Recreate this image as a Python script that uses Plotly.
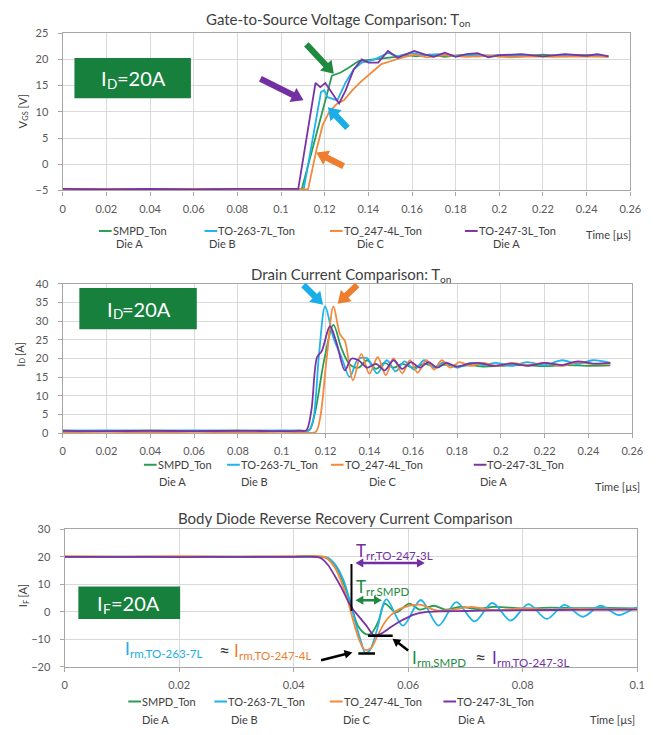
import math
import plotly.graph_objects as go

W, H = 656, 735
FONT = "Lato"

GREEN = "#2a9d55"
CYAN = "#1fb3ea"
ORANGE = "#f28a3c"
PURPLE = "#7a34a6"
BOX_GREEN = "#17803d"
ARROW_GREEN = "#1e8a3f"
ARROW_CYAN = "#19aee8"
ARROW_ORANGE = "#ef7d2e"
ARROW_PURPLE = "#7330a3"
TEXT = "#404040"
GRID = "#d9d9d9"
FRAME = "#a6a6a6"

SERIES = ["SMPD_Ton", "TO-263-7L_Ton", "TO_247-4L_Ton", "TO-247-3L_Ton"]
DIES = ["Die A", "Die B", "Die C", "Die A"]
COLORS = [GREEN, CYAN, ORANGE, PURPLE]

# ---------------- Gate-to-source voltage, turn-on (time in µs, V) ----------------
t_vgs_smpd = [0, 0.02, 0.04, 0.06, 0.08, 0.1, 0.1095, 0.1206, 0.1233, 0.1273, 0.131, 0.1355,
              0.1415, 0.1475, 0.1525, 0.1565, 0.162, 0.168, 0.175, 0.182, 0.19, 0.2, 0.21,
              0.22, 0.23, 0.24, 0.25]
vgs_smpd = [-4.8, -4.7, -4.8, -4.7, -4.8, -4.7, -4.8, 13.1, 16.9, 17.5, 18.4, 19.7,
            20.0, 20.3, 20.5, 20.9, 20.6, 20.9, 20.5, 20.8, 20.6, 20.8, 20.6,
            20.9, 20.6, 20.8, 20.6]

t_vgs_263 = [0, 0.02, 0.04, 0.06, 0.08, 0.1, 0.1104, 0.1183, 0.1198, 0.1213, 0.1258, 0.1296,
             0.1333, 0.137, 0.143, 0.149, 0.1534, 0.1594, 0.165, 0.172, 0.18, 0.19, 0.2,
             0.21, 0.22, 0.23, 0.24, 0.25]
vgs_263 = [-4.8, -4.7, -4.8, -4.7, -4.8, -4.7, -4.8, 13.75, 14.1, 12.8, 12.2, 15.6,
           18.1, 19.4, 20.0, 21.25, 20.6, 21.25, 20.8, 21.0, 20.7, 20.9, 20.6,
           20.8, 20.6, 20.8, 20.7, 20.6]

t_vgs_4l = [0, 0.02, 0.04, 0.06, 0.08, 0.1, 0.1124, 0.1139, 0.1161, 0.1191, 0.1221, 0.1258,
            0.1288, 0.1326, 0.137, 0.1415, 0.146, 0.1505, 0.155, 0.161, 0.167, 0.175,
            0.185, 0.195, 0.205, 0.215, 0.225, 0.235, 0.245, 0.25]
vgs_4l = [-4.8, -4.7, -4.8, -4.7, -4.8, -4.7, -4.8, -1.6, 2.5, 7.5, 10.0, 11.6,
          12.2, 14.1, 15.9, 17.5, 19.1, 19.7, 20.3, 20.9, 20.4, 20.8,
          20.5, 20.7, 20.4, 20.6, 20.5, 20.6, 20.5, 20.5]

t_vgs_3l = [0, 0.02, 0.04, 0.06, 0.08, 0.1, 0.1079, 0.1158, 0.118, 0.1203, 0.1266, 0.1296,
            0.1333, 0.137, 0.14, 0.1445, 0.149, 0.1534, 0.157, 0.161, 0.1654, 0.17, 0.175,
            0.18, 0.185, 0.19, 0.195, 0.2, 0.21, 0.22, 0.23, 0.24, 0.245, 0.25]
vgs_3l = [-4.7, -4.8, -4.7, -4.8, -4.7, -4.8, -4.7, 15.5, 14.7, 15.5, 11.6, 14.1,
          18.1, 20.0, 19.4, 19.4, 21.6, 20.3, 20.9, 21.6, 21.0, 20.5, 21.3,
          20.5, 21.0, 21.2, 20.4, 20.8, 21.0, 20.6, 21.0, 20.7, 21.0, 20.6]

# ---------------- Drain current, turn-on (time in µs, A) ----------------
t_id_smpd = [0, 0.02, 0.04, 0.06, 0.08, 0.1, 0.108, 0.1125, 0.115, 0.1195, 0.1236, 0.1273,
             0.131, 0.135, 0.139, 0.143, 0.147, 0.151, 0.155, 0.16, 0.165, 0.17, 0.175,
             0.18, 0.186, 0.192, 0.2, 0.21, 0.22, 0.23, 0.24, 0.25]
id_smpd = [0.7, 0.6, 0.7, 0.6, 0.7, 0.6, 0.7, 0.8, 5.0, 20.0, 29.0, 22.6,
           18.4, 17.5, 19.5, 17.2, 18.8, 17.5, 18.5, 17.5, 18.5, 17.8, 18.3,
           17.8, 18.2, 17.8, 18.0, 18.2, 17.9, 18.2, 18.0, 18.1]

t_id_263 = [0, 0.02, 0.04, 0.06, 0.08, 0.1, 0.108, 0.1125, 0.1145, 0.117, 0.1198, 0.1236,
            0.1273, 0.131, 0.1348, 0.139, 0.1435, 0.148, 0.152, 0.156, 0.1605, 0.165,
            0.1695, 0.174, 0.18, 0.186, 0.192, 0.198, 0.205, 0.212, 0.22, 0.228, 0.235,
            0.242, 0.25]
id_263 = [0.6, 0.7, 0.6, 0.7, 0.6, 0.7, 0.6, 0.7, 4.0, 21.0, 33.9, 25.5,
          20.3, 15.0, 19.8, 20.0, 16.0, 19.5, 16.5, 19.2, 17.0, 19.5,
          17.5, 19.0, 17.5, 18.8, 18.2, 18.8, 18.0, 19.0, 18.2, 19.5, 18.5,
          19.5, 18.8]

t_id_4l = [0, 0.02, 0.04, 0.06, 0.08, 0.1, 0.11, 0.1155, 0.1175, 0.1205, 0.1236, 0.1266,
           0.1288, 0.1325, 0.1363, 0.14, 0.1438, 0.1475, 0.151, 0.155, 0.1585, 0.162,
           0.166, 0.1695, 0.173, 0.177, 0.181, 0.186, 0.192, 0.198, 0.205, 0.212, 0.22,
           0.228, 0.235, 0.242, 0.25]
id_4l = [0.2, 0.3, 0.2, 0.3, 0.2, 0.3, 0.2, 0.3, 4.0, 20.0, 33.9, 26.4,
         24.7, 14.1, 21.2, 15.9, 20.3, 15.5, 20.0, 16.0, 19.5, 16.2,
         19.5, 17.0, 19.5, 17.5, 19.0, 18.0, 18.8, 18.0, 18.8, 18.2, 18.8,
         18.0, 19.0, 18.5, 18.6]

t_id_3l = [0, 0.02, 0.04, 0.06, 0.08, 0.1, 0.108, 0.1112, 0.1135, 0.1161, 0.1183, 0.122,
           0.125, 0.1288, 0.1318, 0.135, 0.139, 0.143, 0.147, 0.151, 0.155, 0.159, 0.163,
           0.167, 0.171, 0.175, 0.18, 0.185, 0.19, 0.197, 0.205, 0.212, 0.22, 0.228,
           0.235, 0.242, 0.25]
id_3l = [0.6, 0.5, 0.6, 0.5, 0.6, 0.5, 0.6, 0.7, 6.0, 20.3, 22.0, 28.6,
         24.2, 16.8, 19.9, 19.5, 17.5, 18.5, 16.8, 19.5, 17.2, 19.0, 17.5,
         19.0, 17.5, 18.8, 17.8, 18.5, 18.8, 18.0, 18.6, 18.0, 18.8, 18.2,
         19.2, 18.6, 18.8]

# ---------------- Body diode reverse recovery (time in µs, A) ----------------
t_if_smpd = [0, 0.01, 0.02, 0.03, 0.04, 0.0445, 0.0455, 0.0475, 0.0488, 0.0501, 0.0512,
             0.0525, 0.0535, 0.0548, 0.0559, 0.0579, 0.0602, 0.062, 0.0645, 0.0665, 0.069,
             0.072, 0.075, 0.08, 0.085, 0.09, 0.095, 0.1]
if_smpd = [20.0, 19.9, 20.0, 19.9, 20.0, 20.0, 19.8, 16.0, 10.0, 2.0, -5.0,
           -8.0, -8.0, -3.5, 3.0, -0.2, 3.0, 0.8, 2.2, 0.8, 1.8,
           1.0, 1.8, 1.2, 1.5, 1.3, 1.4, 1.2]

t_if_263 = [0, 0.01, 0.02, 0.03, 0.04, 0.0445, 0.046, 0.0475, 0.0488, 0.0498, 0.0508,
            0.0518, 0.0525, 0.0533, 0.0545, 0.0562, 0.0591, 0.0622, 0.0653, 0.0684,
            0.0716, 0.0747, 0.0779, 0.081, 0.0842, 0.0873, 0.0905, 0.0936, 0.0968,
            0.0998, 0.1]
if_263 = [20.0, 20.1, 20.0, 20.1, 20.0, 20.0, 19.6, 16.5, 11.0, 4.0, -4.0,
          -11.0, -14.9, -14.0, -7.0, 4.5, -5.0, 4.3, -5.0, 3.5,
          -3.5, 3.2, -3.2, 2.8, -2.6, 2.5, -1.8, 2.2, -1.2,
          1.5, 1.2]

t_if_4l = [0, 0.01, 0.02, 0.03, 0.04, 0.0448, 0.0458, 0.0472, 0.0485, 0.0496, 0.0505,
           0.0515, 0.0524, 0.0535, 0.0548, 0.0562, 0.0578, 0.0595, 0.062, 0.065, 0.068,
           0.071, 0.075, 0.08, 0.085, 0.09, 0.095, 0.1]
if_4l = [20.2, 20.1, 20.2, 20.1, 20.2, 20.2, 19.5, 16.0, 10.0, 3.0, -4.0,
         -10.5, -13.8, -13.2, -8.0, -3.0, 0.2, 1.8, 2.6, 0.5, 0.8,
         1.8, 0.6, 1.2, 0.8, 1.1, 0.9, 1.0]

t_if_3l = [0, 0.01, 0.02, 0.03, 0.04, 0.0438, 0.0448, 0.046, 0.0472, 0.0484, 0.0496,
           0.0503, 0.0515, 0.0527, 0.054, 0.0552, 0.057, 0.059, 0.061, 0.063, 0.066,
           0.07, 0.075, 0.08, 0.09, 0.1]
if_3l = [20.0, 20.0, 19.9, 20.0, 20.0, 20.0, 19.5, 17.0, 13.0, 8.5, 3.5,
         1.0, -2.0, -5.0, -8.5, -8.0, -5.5, -3.0, -1.0, -0.1, 0.2,
         0.3, 0.5, 0.6, 0.7, 0.8]

# reverse-recovery readings (µs, A)
trr_start = 0.0508
trr_end_3l = 0.0629
trr_end_smpd = 0.0554
irm_263_4l = -15.2
irm_smpd_3l = -8.7

PANELS = [
    dict(xa="x", ya="y", shape="linear",
         data=[(t_vgs_smpd, vgs_smpd), (t_vgs_263, vgs_263), (t_vgs_4l, vgs_4l), (t_vgs_3l, vgs_3l)]),
    dict(xa="x2", ya="y2", shape="spline",
         data=[(t_id_smpd, id_smpd), (t_id_263, id_263), (t_id_4l, id_4l), (t_id_3l, id_3l)]),
    dict(xa="x3", ya="y3", shape="spline",
         data=[(t_if_smpd, if_smpd), (t_if_263, if_263), (t_if_4l, if_4l), (t_if_3l, if_3l)]),
]

# plot-area boxes in pixels: (left, right, top, bottom)
BOX1 = (61, 641, 26.7, 186.7)
BOX2 = (61, 643, 281.7, 433.7)
BOX3 = (63, 648, 531.7, 671.7)
X3_RANGE = (0, 0.1)
Y3_RANGE = (-20, 30)


def px(x):
    return x / W


def py(y):
    return 1 - y / H


def x3_pix(t):
    return BOX3[0] + (BOX3[1] - BOX3[0]) * (t - X3_RANGE[0]) / (X3_RANGE[1] - X3_RANGE[0])


def y3_pix(v):
    return BOX3[3] - (BOX3[3] - BOX3[2]) * (v - Y3_RANGE[0]) / (Y3_RANGE[1] - Y3_RANGE[0])


fig = go.Figure()
for p in PANELS:
    for (t, v), name, col in zip(p["data"], SERIES, COLORS):
        fig.add_trace(go.Scatter(
            x=t, y=v, name=name, mode="lines", xaxis=p["xa"], yaxis=p["ya"],
            line=dict(color=col, width=1.8, shape=p["shape"], smoothing=0.9),
            showlegend=False))


def axis_style(**kw):
    base = dict(showgrid=True, gridcolor=GRID, gridwidth=1, showline=True, linecolor=FRAME,
                linewidth=1.3, mirror=True, ticks="outside", ticklen=4, tickcolor=FRAME,
                zeroline=False, tickfont=dict(family=FONT, size=11, color="#595959"),
                fixedrange=True)
    base.update(kw)
    return base


layout_axes = dict(
    xaxis=axis_style(domain=[px(BOX1[0]), px(BOX1[1])], range=[0, 0.26], dtick=0.02, tick0=0,
                     anchor="y", ticklabelstandoff=4),
    yaxis=axis_style(domain=[py(BOX1[3]), py(BOX1[2])], range=[-5, 25], dtick=5, anchor="x",
                     ticklabelstandoff=7),
    xaxis2=axis_style(domain=[px(BOX2[0]), px(BOX2[1])], range=[0, 0.26], dtick=0.02, tick0=0,
                      anchor="y2", ticklabelstandoff=4),
    yaxis2=axis_style(domain=[py(BOX2[3]), py(BOX2[2])], range=[0, 40], dtick=5, anchor="x2",
                      ticklabelstandoff=7),
    xaxis3=axis_style(domain=[px(BOX3[0]), px(BOX3[1])], range=list(X3_RANGE), dtick=0.02,
                      tick0=0, anchor="y3", ticklabelstandoff=4),
    yaxis3=axis_style(domain=[py(BOX3[3]), py(BOX3[2])], range=list(Y3_RANGE), dtick=10,
                      anchor="x3", ticklabelstandoff=7),
)

ann = []
shapes = []


def text(x, y, s, size=11, color=TEXT, xanchor="left", yanchor="middle", angle=0):
    ann.append(dict(x=px(x), y=py(y), xref="paper", yref="paper", text=s, showarrow=False,
                    xanchor=xanchor, yanchor=yanchor, textangle=angle, borderpad=0,
                    borderwidth=0, font=dict(family=FONT, size=size, color=color)))


def sub_text(x_split, y, main, sub, size, color=TEXT, sub_scale=0.68, after=None, sub_w=0):
    """Main text ending at x_split, subscript starting there and sitting lower."""
    text(x_split, y, main, size, color, xanchor="right")
    text(x_split, y + 0.3 * size, sub, size * sub_scale, color, xanchor="left")
    if after:
        text(x_split + sub_w, y, after, size, color, xanchor="left")


def vsub_text(x, y_split, main, sub, after, size, sub_w, color=TEXT):
    """Rotated (reading upward) text with a subscript, split at screen row y_split."""
    text(x, y_split, main, size, color, xanchor="center", yanchor="top", angle=-90)
    text(x + 0.3 * size, y_split, sub, size * 0.68, color, xanchor="center",
         yanchor="bottom", angle=-90)
    text(x, y_split - sub_w, after, size, color, xanchor="center", yanchor="bottom", angle=-90)


def poly(points, color):
    path = "M " + " L ".join(f"{px(x):.5f},{py(y):.5f}" for x, y in points) + " Z"
    shapes.append(dict(type="path", xref="paper", yref="paper", path=path,
                       fillcolor=color, line=dict(width=0), layer="above"))


def arrow(tail, tip, color, shaft=3.2, head=8.0, head_len=12.0, double=False):
    (x0, y0), (x1, y1) = tail, tip
    L = math.hypot(x1 - x0, y1 - y0)
    dx, dy = (x1 - x0) / L, (y1 - y0) / L
    nx, ny = -dy, dx
    bx, by = x1 - dx * head_len, y1 - dy * head_len
    right = [(bx + nx * shaft, by + ny * shaft), (bx + nx * head, by + ny * head), (x1, y1),
             (bx - nx * head, by - ny * head), (bx - nx * shaft, by - ny * shaft)]
    if double:
        ax_, ay_ = x0 + dx * head_len, y0 + dy * head_len
        left = [(ax_ - nx * shaft, ay_ - ny * shaft), (ax_ - nx * head, ay_ - ny * head), (x0, y0),
                (ax_ + nx * head, ay_ + ny * head), (ax_ + nx * shaft, ay_ + ny * shaft)]
    else:
        left = [(x0 - nx * shaft, y0 - ny * shaft), (x0 + nx * shaft, y0 + ny * shaft)]
    poly(left + right, color)


# panel titles
sub_text(466, 12, "Gate-to-Source Voltage Comparison: T", "on", 15)
sub_text(447, 272, "Drain Current Comparison: T", "on", 15)
text(350, 520, "Body Diode Reverse Recovery Current Comparison", 15, xanchor="center")

# y-axis titles
vsub_text(20, 116, "V", "GS", " [V]", 11, 10)
vsub_text(17, 363, "I", "D", " [A]", 11, 5)
vsub_text(20, 608, "I", "F", " [A]", 11, 4)

# legends drawn under each panel
LEG = [
    dict(y=228, ydie=241, x=[98, 206, 334, 472], xdie=[115, 210, 362, 501], time=(596, 232)),
    dict(y=466, ydie=483, x=[144, 229, 335, 481], xdie=[159, 243, 374, 487], time=(605, 488)),
    dict(y=707, ydie=725, x=[128, 216, 334, 450], xdie=[142, 233, 347, 465], time=(600, 725)),
]
for lg in LEG:
    for xs, xd, name, die, col in zip(lg["x"], lg["xdie"], SERIES, DIES, COLORS):
        shapes.append(dict(type="line", xref="paper", yref="paper", x0=px(xs), x1=px(xs + 13),
                           y0=py(lg["y"]), y1=py(lg["y"]), line=dict(color=col, width=2)))
        text(xs + 14, lg["y"], name, 11)
        text(xd, lg["ydie"], die, 11)
    text(lg["time"][0], lg["time"][1], "Time [µs]", 11)

# test-condition boxes
for (x0, y0, x1, y1), split, sub, sub_w in [((73, 52, 192, 93), 106, "D", 10),
                                             ((78, 286, 198, 328), 112, "D", 10),
                                             ((77, 590, 181, 623), 102, "F", 8)]:
    shapes.append(dict(type="rect", xref="paper", yref="paper", x0=px(x0), x1=px(x1),
                       y0=py(y1), y1=py(y0), fillcolor=BOX_GREEN, line=dict(width=0)))
    sub_text(split, (y0 + y1) / 2, "I", sub, 20, "white", after="=20A", sub_w=sub_w)

# arrows pointing at the gate plateau and current peaks
arrow((310, 38), (338, 68), ARROW_GREEN)
arrow((263, 73), (307, 95), ARROW_PURPLE)
arrow((352, 123), (332, 102), ARROW_CYAN)
arrow((348, 162), (320, 148), ARROW_ORANGE)
arrow((307, 283), (327, 303), ARROW_CYAN)
arrow((362, 283), (342, 302), ARROW_ORANGE)

# reverse-recovery markers
shapes.append(dict(type="line", xref="x3", yref="y3", x0=0.0501, x1=0.0501, y0=17.4, y1=0.3,
                   line=dict(color="black", width=2)))
shapes.append(dict(type="line", xref="x3", yref="y3", x0=0.0513, x1=0.0542,
                   y0=irm_263_4l, y1=irm_263_4l, line=dict(color="black", width=2.5)))
shapes.append(dict(type="line", xref="x3", yref="y3", x0=0.0530, x1=0.0573,
                   y0=irm_smpd_3l, y1=irm_smpd_3l, line=dict(color="black", width=2.5)))

arrow((x3_pix(trr_start), y3_pix(17.75)), (x3_pix(trr_end_3l), y3_pix(17.75)), ARROW_PURPLE,
      shaft=1.3, head=4.5, head_len=8, double=True)
arrow((x3_pix(trr_start), y3_pix(4.2)), (x3_pix(trr_end_smpd), y3_pix(4.2)), ARROW_GREEN,
      shaft=1.3, head=4.5, head_len=8, double=True)
arrow((325, 665), (357, 657), "black", shaft=1.3, head=4.5, head_len=8)
arrow((414, 655), (398, 643), "black", shaft=1.3, head=4.5, head_len=8)

sub_text(371, 553, "T", "rr,TO-247-3L", 17, ARROW_PURPLE)
sub_text(371, 590, "T", "rr,SMPD", 17, ARROW_GREEN)
sub_text(130, 653, "I", "rm,TO-263-7L", 17, ARROW_CYAN)
text(226, 655, "≈", 19, TEXT, xanchor="center")
sub_text(241, 655, "I", "rm,TO-247-4L", 17, ARROW_ORANGE)
sub_text(423, 662, "I", "rm,SMPD", 17, ARROW_GREEN)
text(488, 662, "≈", 19, TEXT, xanchor="center")
sub_text(505, 662, "I", "rm,TO-247-3L", 17, ARROW_PURPLE)

fig.update_layout(
    width=W, height=H, margin=dict(l=0, r=0, t=0, b=0, pad=0),
    paper_bgcolor="white", plot_bgcolor="white",
    font=dict(family=FONT, color=TEXT),
    annotations=ann, shapes=shapes, showlegend=False,
    **layout_axes,
)

fig.write_html("out.html")
